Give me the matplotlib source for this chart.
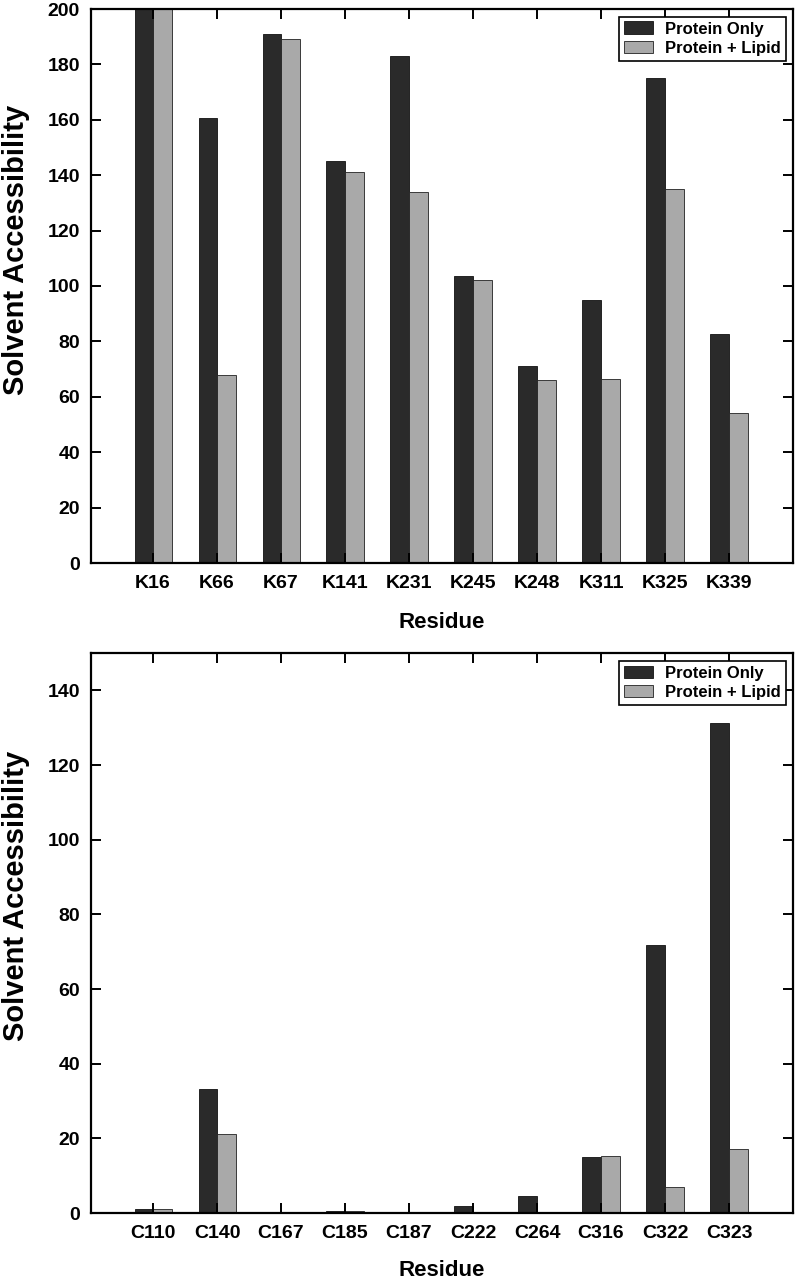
import numpy as np
import matplotlib.pyplot as plt

plt.rcParams['font.family'] = ['Liberation Sans', 'DejaVu Sans']
plt.rcParams['font.weight'] = 'bold'

lys_labels = ['K16', 'K66', 'K67', 'K141', 'K231', 'K245', 'K248', 'K311', 'K325', 'K339']
lys_protein = [205, 160.5, 191, 145, 183, 103.5, 71, 95, 175, 82.5]
lys_lipid = [205, 68, 189, 141, 134, 102, 66, 66.5, 135, 54]

cys_labels = ['C110', 'C140', 'C167', 'C185', 'C187', 'C222', 'C264', 'C316', 'C322', 'C323']
cys_protein = [1.2, 33.3, 0.3, 0.6, 0.3, 2.0, 4.6, 15.1, 71.8, 131.3]
cys_lipid = [1.0, 21.2, 0.2, 0.5, 0.2, 0.3, 0.3, 15.2, 7.0, 17.2]

dark = '#2a2a2a'
light = '#a9a9a9'
w = 0.29

fig = plt.figure(figsize=(7.95, 12.8), dpi=100)
W, H = 795., 1280.
ax1 = fig.add_axes([91/W, 1-563/H, (793-91)/W, (563-9)/H])
ax2 = fig.add_axes([91/W, 1-1213/H, (793-91)/W, (1213-653)/H])

panels = [(ax1, lys_labels, lys_protein, lys_lipid, 200, np.arange(0, 201, 20), -0.107),
          (ax2, cys_labels, cys_protein, cys_lipid, 150, np.arange(0, 141, 20), -0.102)]

for ax, labels, prot, lip, ymax, yt, xlab_y in panels:
    x = np.arange(len(labels))
    ax.bar(x - w/2, prot, w, color=dark, edgecolor='#111111', linewidth=0.6, label='Protein Only')
    ax.bar(x + w/2, lip, w, color=light, edgecolor='#222222', linewidth=0.6, label='Protein + Lipid')
    ax.set_xlim(-0.97, 10.0)
    ax.set_ylim(0, ymax)
    ax.set_xticks(x)
    ax.set_xticklabels(labels, fontsize=14, fontweight='bold')
    ax.set_yticks(yt)
    ax.set_yticklabels([str(v) for v in yt], fontsize=14, fontweight='bold')
    ax.tick_params(direction='in', length=7, width=1.4, top=True, right=True)
    ax.tick_params(axis='x', pad=9)
    ax.tick_params(axis='y', pad=8)
    for s in ax.spines.values():
        s.set_linewidth(1.6)
    ax.set_xlabel('Residue', fontsize=16, fontweight='bold')
    ax.set_ylabel('Solvent Accessibility', fontsize=21, fontweight='bold')
    ax.xaxis.label.set_va('center')
    ax.yaxis.label.set_va('center')
    ax.xaxis.set_label_coords(0.5, xlab_y)
    ax.yaxis.set_label_coords(-0.107, 0.566)
    leg = ax.legend(loc='upper right', fontsize=12, fancybox=False, framealpha=1,
                    edgecolor='black', borderpad=0.3, handlelength=1.75, handleheight=0.78,
                    handletextpad=0.7, borderaxespad=0.45, labelspacing=0.25)
    leg.get_frame().set_linewidth(1.2)

fig.savefig('out.png', dpi=100)
